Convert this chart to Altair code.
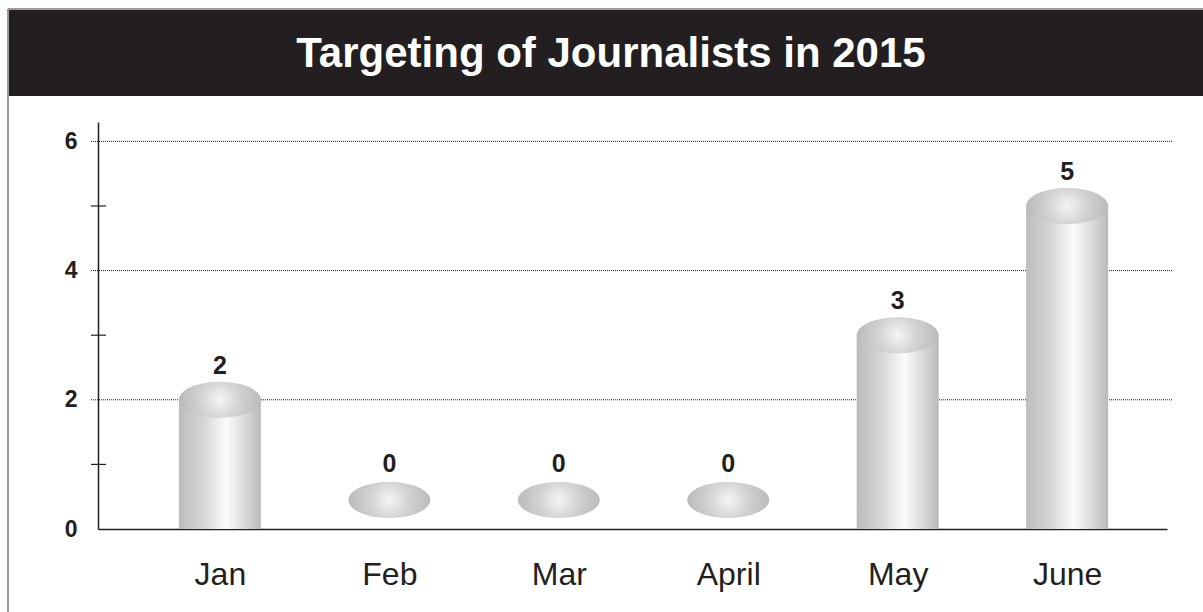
import json
import altair as alt
import pandas as pd

# ---- data ----
TITLE = "Targeting of Journalists in 2015"
months = ["Jan", "Feb", "Mar", "April", "May", "June"]
counts = [2, 0, 0, 0, 3, 5]
y_label_values = [0, 2, 4, 6]
grid_values = [2, 4, 6]
minor_tick_values = [1, 3, 5]

df = pd.DataFrame({"idx": list(range(len(months))), "month": months, "value": counts})
grid_df = pd.DataFrame({"value": grid_values})
minor_df = pd.DataFrame({"value": minor_tick_values})
one = alt.Data(values=[{}])

# ---- layout ----
PAD_L, PAD_T, PAD_R, PAD_B = 98, 122, 36, 83
W = 1203 - PAD_L - PAD_R
H = 612 - PAD_T - PAD_B
DARK = "#231f20"
FONT = "Liberation Sans"

label_expr = json.dumps(months) + "[datum.value]"

x_scale = alt.Scale(domain=[-0.69, 5.56], nice=False, zero=False)
y_scale = alt.Scale(domain=[0, 6.3], nice=False)

x_axis = alt.Axis(values=list(range(len(months))), labelExpr=label_expr, title=None,
                  ticks=False, grid=False, domainColor=DARK, domainWidth=1.5,
                  labelFontSize=32, labelFont=FONT, labelColor=DARK, labelPadding=30,
                  labelFlush=False, labelOverlap=False)
y_axis = alt.Axis(values=y_label_values, title=None, ticks=False, grid=False,
                  domainColor=DARK, domainWidth=1.5, labelFontSize=23,
                  labelFontWeight="bold", labelFont=FONT, labelColor=DARK,
                  labelPadding=21)

X = alt.X("idx:Q", scale=x_scale, axis=x_axis)
Y = alt.Y("value:Q", scale=y_scale, axis=y_axis)

bar_grad = {"gradient": "linear", "x1": 0, "y1": 0, "x2": 1, "y2": 0,
            "stops": [{"offset": 0, "color": "#bcbcbc"},
                      {"offset": 0.3, "color": "#d6d6d6"},
                      {"offset": 0.58, "color": "#fbfbfb"},
                      {"offset": 0.8, "color": "#dadada"},
                      {"offset": 1, "color": "#bababa"}]}
top_grad = {"gradient": "radial", "x1": 0.5, "y1": 0.5, "r1": 0,
            "x2": 0.5, "y2": 0.5, "r2": 0.5,
            "stops": [{"offset": 0, "color": "#f5f5f5"},
                      {"offset": 0.45, "color": "#d4d4d4"},
                      {"offset": 1, "color": "#bababa"}]}
ELLIPSE = "M -1 0 A 1 0.44 0 1 0 1 0 A 1 0.44 0 1 0 -1 0 Z"
BAR_W = 82

# ---- decoration ----
border_left = alt.Chart(one).mark_rule(color="#7a7a7a", strokeWidth=1.5).encode(
    x=alt.value(-90), y=alt.value(-113), y2=alt.value(H + PAD_B))
border_top = alt.Chart(one).mark_rule(color="#7a7a7a", strokeWidth=1.5).encode(
    x=alt.value(-90), x2=alt.value(W + PAD_R), y=alt.value(-113))
title_band = alt.Chart(one).mark_rect(color=DARK).encode(
    x=alt.value(-89), x2=alt.value(W + PAD_R), y=alt.value(-112), y2=alt.value(-26))
title_text = alt.Chart(one).mark_text(
    text=TITLE, font=FONT, fontSize=42, fontWeight="bold", color="white",
    align="center", baseline="alphabetic").encode(x=alt.value(513), y=alt.value(-55))

# ---- gridlines and minor ticks ----
grid = alt.Chart(grid_df).mark_rule(color=DARK, strokeWidth=1, strokeDash=[1, 1]).encode(
    y=Y, x=alt.value(-7), x2=alt.value(W + 5))
minor = alt.Chart(minor_df).mark_rule(color=DARK, strokeWidth=1.2).encode(
    y=Y, x=alt.value(-7), x2=alt.value(8))

# ---- cylinders ----
base = alt.Chart(df)
bodies = base.transform_filter("datum.value > 0").mark_bar(size=BAR_W, fill=bar_grad).encode(x=X, y=Y)
tops = base.transform_filter("datum.value > 0").mark_point(
    shape=ELLIPSE, size=BAR_W * BAR_W, filled=True, fill=top_grad, opacity=1,
    strokeWidth=0).encode(x=X, y=Y)
disks = base.transform_filter("datum.value == 0").mark_point(
    shape=ELLIPSE, size=BAR_W * BAR_W, filled=True, fill=top_grad, opacity=1,
    strokeWidth=0, yOffset=-29).encode(x=X, y=Y)
labels_nz = base.transform_filter("datum.value > 0").mark_text(
    font=FONT, fontSize=25, fontWeight="bold", color=DARK, baseline="alphabetic",
    dy=-26).encode(x=X, y=Y, text="value:Q")
labels_z = base.transform_filter("datum.value == 0").mark_text(
    font=FONT, fontSize=25, fontWeight="bold", color=DARK, baseline="alphabetic",
    dy=-57).encode(x=X, y=Y, text="value:Q")

chart = alt.layer(
    border_left, border_top, title_band, title_text,
    grid, minor, bodies, tops, disks, labels_nz, labels_z
).properties(
    width=W, height=H,
    autosize=alt.AutoSizeParams(type="none"),
    padding={"left": PAD_L, "top": PAD_T, "right": PAD_R, "bottom": PAD_B},
    background="white",
).configure_view(stroke=None)

chart.save("out.html", embed_options={"renderer": "svg", "actions": False})
